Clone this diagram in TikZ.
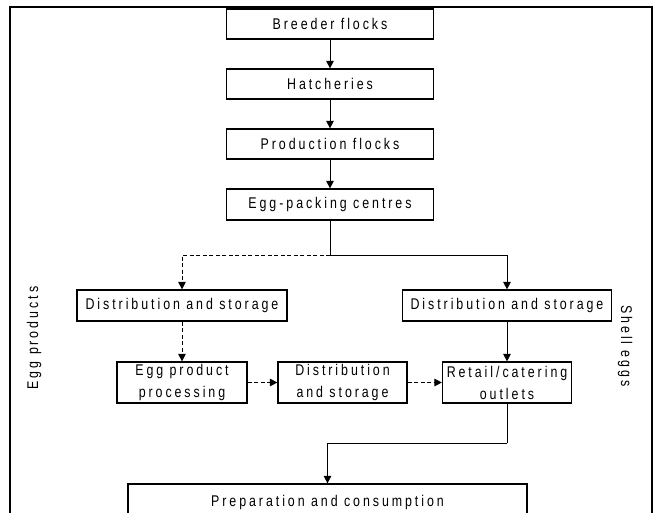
\documentclass[tikz,border=0pt]{standalone}
\usepackage{fontspec}
\setmainfont{Liberation Sans}[FakeStretch=0.8, LetterSpace=19]
\usetikzlibrary{arrows.meta}
\begin{document}
\begin{tikzpicture}[x=1bp,y=-1bp,
  box/.style={draw, line width=1.2bp, minimum height=30bp, inner sep=0pt,
    font=\fontsize{15.5bp}{22bp}\selectfont, align=center},
  side/.style={inner sep=0pt, font=\fontsize{15.5bp}{22bp}\selectfont},
  arr/.style={-{Triangle[length=7.5bp,width=7.5bp]}, line width=1bp},
  ln/.style={line width=1bp},
  dsh/.style={dash pattern=on 4bp off 2.5bp}]
\useasboundingbox (0,0) rectangle (659,513);
\clip (0,0) rectangle (659,513);
% outer frame
\draw[line width=2bp] (10,520) -- (10,7) -- (652,7) -- (652,520);
% boxes
\node[box, minimum width=207bp] (breeder) at (330,24) {Breeder flocks};
\node[box, minimum width=207bp] (hatch) at (330,84) {Hatcheries};
\node[box, minimum width=207bp] (prod) at (330,144) {Production flocks};
\node[box, minimum width=207bp, minimum height=31bp] (pack) at (330,204.5) {Egg-packing centres};
\node[box, minimum width=210bp, minimum height=31bp] (dsl) at (182,305.5) {Distribution and storage};
\node[box, minimum width=209bp, minimum height=31bp] (dsr) at (507,305.5) {Distribution and storage};
\node[box, minimum width=130bp, minimum height=41bp] (epp) at (182,382.5) {Egg product\\processing};
\node[box, minimum width=129bp, minimum height=41bp] (dsm) at (342.5,382.5) {Distribution\\and storage};
\node[box, minimum width=129bp, minimum height=41bp] (retail) at (507,382.5) {Retail/catering\\outlets};
\node[box, minimum width=399bp, minimum height=36bp] (prep) at (327.5,502) {Preparation and consumption};
% side labels
\node[side, rotate=90] (eggprod) at (34,338) {Egg products};
\node[side, rotate=-90] (shell) at (625,346) {Shell eggs};
% connectors
\coordinate (branch) at (330,255);
\coordinate (bend) at (507,443);
\draw[arr] (breeder) -- (hatch);
\draw[arr] (hatch) -- (prod);
\draw[arr] (prod) -- (pack);
\draw[ln] (pack.south) -- (branch);
\draw[arr] (branch) -| (dsr.north);
\draw[arr, dsh] (branch) -| (dsl.north);
\draw[arr, dsh] (dsl) -- (epp);
\draw[arr, dsh] (epp) -- (dsm);
\draw[arr, dsh] (dsm) -- (retail);
\draw[arr] (dsr) -- (retail);
\draw[ln] (retail.south) -- (bend);
\draw[arr] (bend) -| (prep.north);
\end{tikzpicture}
\end{document}
